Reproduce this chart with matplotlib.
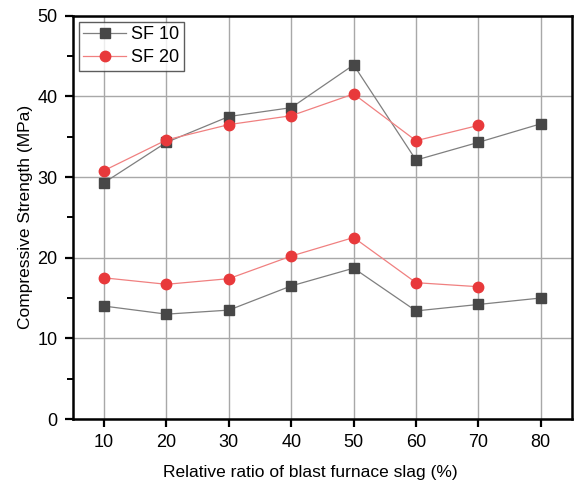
import numpy as np
import matplotlib.pyplot as plt

plt.rcParams['font.family'] = ['Liberation Sans', 'DejaVu Sans']

ratio = [10, 20, 30, 40, 50, 60, 70, 80]
sf10_high = [29.3, 34.3, 37.5, 38.6, 43.9, 32.1, 34.3, 36.6]
sf20_high = [30.8, 34.6, 36.5, 37.6, 40.3, 34.5, 36.4]
sf10_low = [14.0, 13.0, 13.5, 16.5, 18.7, 13.4, 14.2, 15.0]
sf20_low = [17.5, 16.7, 17.4, 20.2, 22.5, 16.9, 16.4]

c10_mark = '#474747'
c10_line = '#7f7f7f'
c20_mark = '#e8393b'
c20_line = '#f08080'

fig = plt.figure(figsize=(5.74, 4.83), dpi=100)
ax = fig.add_axes([0.127, 0.1325, 0.8695, 0.835])

ax.plot(ratio, sf10_high, color=c10_line, lw=0.9, marker='s', ms=6.5,
        mfc=c10_mark, mec=c10_mark, label='SF 10')
ax.plot(ratio[:7], sf20_high, color=c20_line, lw=0.9, marker='o', ms=7.5,
        mfc=c20_mark, mec=c20_mark, label='SF 20')
ax.plot(ratio, sf10_low, color=c10_line, lw=0.9, marker='s', ms=6.5,
        mfc=c10_mark, mec=c10_mark)
ax.plot(ratio[:7], sf20_low, color=c20_line, lw=0.9, marker='o', ms=7.5,
        mfc=c20_mark, mec=c20_mark)

ax.set_xlim(5, 85)
ax.set_ylim(0, 50)
ax.set_xticks(ratio)
ax.set_yticks([0, 10, 20, 30, 40, 50])
ax.set_yticks([5, 15, 25, 35, 45], minor=True)
ax.grid(True, color='#a8a8a8', lw=1.0)
ax.set_axisbelow(True)
for s in ax.spines.values():
    s.set_linewidth(1.8)
ax.tick_params(axis='both', which='major', direction='out', length=6, width=1.6,
               labelsize=13, pad=5)
ax.tick_params(axis='y', which='minor', direction='out', length=4, width=1.4)

ax.set_xlabel('Relative ratio of blast furnace slag (%)', fontsize=12.5, labelpad=9)
ax.xaxis.set_label_coords(0.475, -0.115)
ax.set_ylabel('Compressive Strength (MPa)', fontsize=12.5, labelpad=3)

leg = ax.legend(loc='upper left', fontsize=13, fancybox=False, edgecolor='#333333',
                handlelength=2.35, handletextpad=0.3, borderpad=0.25,
                labelspacing=0.33, bbox_to_anchor=(0.0, 1.0), borderaxespad=0.33)
leg.get_frame().set_linewidth(1.0)

fig.savefig('out.png', dpi=100)
